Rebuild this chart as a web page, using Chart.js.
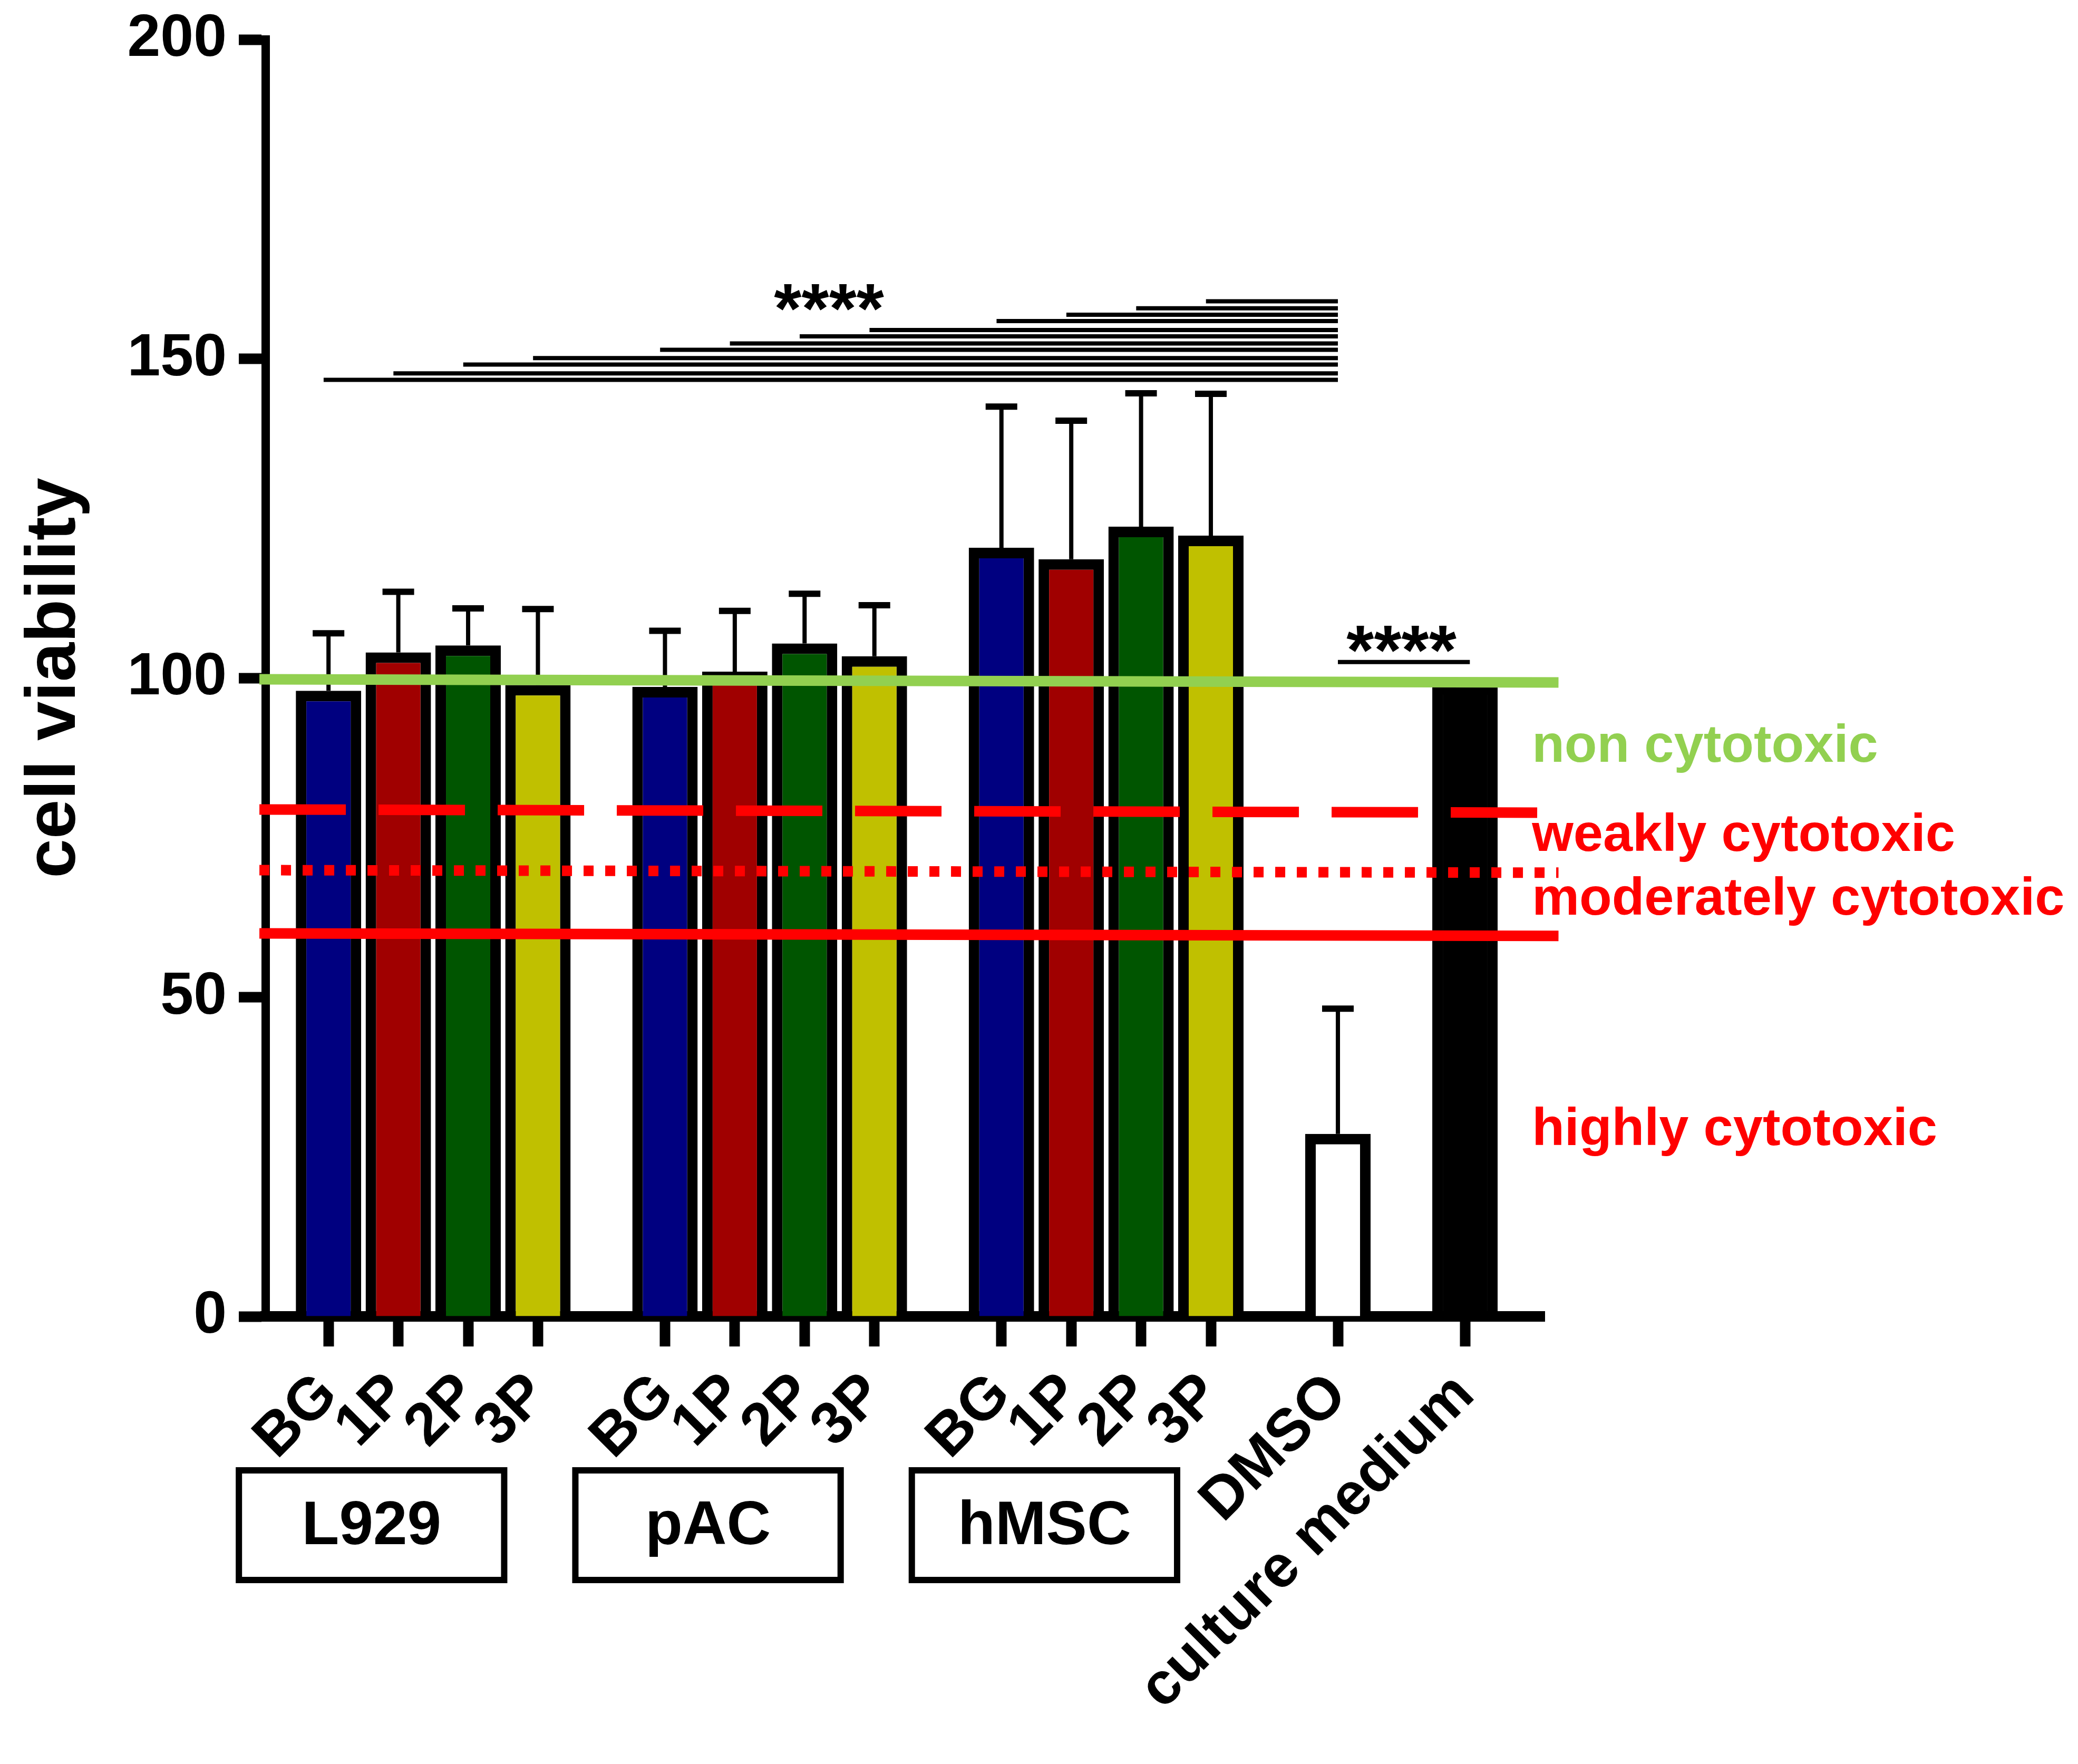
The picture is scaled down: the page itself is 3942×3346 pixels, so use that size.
<!DOCTYPE html>
<html>
<head>
<meta charset="utf-8">
<script src="https://cdn.jsdelivr.net/npm/chart.js@4/dist/chart.umd.min.js"></script>
<style>
html,body{margin:0;padding:0;background:#ffffff;}
#wrap{width:3942px;height:3346px;position:relative;}
</style>
</head>
<body>
<div id="wrap"><canvas id="c"></canvas></div>
<script>
// ================= DATA =================
const cellTypes = ['L929', 'pAC', 'hMSC'];
const materials = ['BG', '1P', '2P', '3P'];
const controls = ['DMSO', 'culture medium'];

const meanL929 = [98.0, 104.0, 105.1, 98.9];
const meanPAC  = [98.6, 101.0, 105.4, 103.4];
const meanHMSC = [120.4, 118.6, 123.7, 122.3];
const meanControls = [28.6, 99.0];

const sdL929 = [9.0, 9.5, 5.8, 11.9];
const sdPAC  = [8.8, 9.5, 7.8, 8.0];
const sdHMSC = [22.1, 21.7, 20.9, 22.2];
const sdControls = [19.6, null];

// significance brackets (each material bar vs DMSO), heights in y units
const sigLevelsVsDMSO = [146.7, 147.7, 149.1, 150.1, 151.4, 152.4, 153.5, 154.5, 155.9, 156.9, 157.9, 159.0];
const sigLevelControls = 102.5;
const sigLabel = '****';

// cytotoxicity thresholds (drawn lines, slightly tilted in the original)
const thresholdNames = ['non cytotoxic', 'weakly cytotoxic', 'moderately cytotoxic', 'highly cytotoxic'];
const thresholdStart = [99.8, 79.4, 69.9, 60.0];
const thresholdEnd   = [99.3, 78.9, 69.5, 59.6];

const yTicks = [0, 50, 100, 150, 200];
const yTitle = 'cell viability';

// ================= STYLE / LAYOUT =================
const FONT = '"Liberation Sans", Arial, Helvetica, sans-serif';
const materialColors = ['#000080', '#A00000', '#005500', '#C0C000'];
const controlColors = ['#FFFFFF', '#000000'];
const thresholdColors = ['#92D050', '#FF0000', '#FF0000', '#FF0000'];
const thresholdDash = [[], [164, 62], [19, 22], []];

const GROUP_GAP = 1.82;            // spacing between groups (slot units)
const X_MIN = -0.9, X_MAX = 17.42;
const REF_X0 = -0.99, REF_X1 = 17.62;
const Y_AXIS_WIDTH = 504;
const X_AXIS_HEIGHT = 849;

// slot positions on the linear x scale
const xPos = [];
cellTypes.forEach((c, g) => materials.forEach((m, k) => xPos.push(g * (3 + GROUP_GAP) + k)));
xPos.push(xPos[xPos.length - 1] + GROUP_GAP);
xPos.push(xPos[xPos.length - 1] + GROUP_GAP);
const DMSO_I = 12, CM_I = 13;

const xLabels = [...materials, ...materials, ...materials, ...controls];
const means = [...meanL929, ...meanPAC, ...meanHMSC, ...meanControls];
const sds = [...sdL929, ...sdPAC, ...sdHMSC, ...sdControls];
const barColors = [...materialColors, ...materialColors, ...materialColors, ...controlColors];

const bars = means.map((m, i) => ({x: xPos[i], y: m}));
const stems = [], caps = [];
means.forEach((m, i) => {
  const sd = sds[i];
  if (sd == null) return;
  stems.push({x: xPos[i], y: m}, {x: xPos[i], y: m + sd}, {x: xPos[i], y: null});
  caps.push({x: xPos[i], y: m + sd});
});

const BRACKET_EXT = 0.07;
const brackets = [];
sigLevelsVsDMSO.forEach((h, i) => {
  brackets.push({x: xPos[i] - BRACKET_EXT, y: h}, {x: xPos[DMSO_I], y: h}, {x: xPos[DMSO_I], y: null});
});
brackets.push({x: xPos[DMSO_I], y: sigLevelControls}, {x: xPos[CM_I] + BRACKET_EXT, y: sigLevelControls});

const thresholdDatasets = thresholdNames.map((name, i) => ({
  type: 'line',
  label: name,
  data: [{x: REF_X0, y: thresholdStart[i]}, {x: REF_X1, y: thresholdEnd[i]}],
  borderColor: thresholdColors[i],
  borderWidth: 20,
  borderDash: thresholdDash[i],
  borderCapStyle: 'butt',
  pointRadius: 0,
  tension: 0,
  clip: false,
  order: 0
}));

const annotationLayout = {
  starFont: 134,
  mainStars: {x: 7.17, y: 154.1},
  controlStars: {x: (xPos[DMSO_I] + xPos[CM_I]) / 2, y: 100.6},
  thresholdFont: 101,
  thresholdLabelX: 17.24,
  thresholdLabelY: [86.9, 72.9, 62.95, 26.85],
  boxTop: 286, boxBottom: 506, boxLeftPad: 176, boxRightPad: 58, boxLine: 12, boxFont: 116
};

const annotations = {
  id: 'annotations',
  afterDatasetsDraw(chart) {
    const {ctx, chartArea, scales: {x, y}} = chart;
    const L = annotationLayout;
    ctx.save();
    // significance stars
    ctx.fillStyle = '#000';
    ctx.textAlign = 'center';
    ctx.textBaseline = 'alphabetic';
    ctx.font = `bold ${L.starFont}px ${FONT}`;
    ctx.fillText(sigLabel, x.getPixelForValue(L.mainStars.x), y.getPixelForValue(L.mainStars.y));
    ctx.fillText(sigLabel, x.getPixelForValue(L.controlStars.x), y.getPixelForValue(L.controlStars.y));
    // threshold labels
    ctx.textAlign = 'left';
    ctx.font = `bold ${L.thresholdFont}px ${FONT}`;
    thresholdNames.forEach((n, i) => {
      ctx.fillStyle = thresholdColors[i];
      ctx.fillText(n, x.getPixelForValue(L.thresholdLabelX), y.getPixelForValue(L.thresholdLabelY[i]));
    });
    // cell type boxes
    ctx.strokeStyle = '#000';
    ctx.lineWidth = L.boxLine;
    ctx.fillStyle = '#000';
    ctx.textAlign = 'center';
    ctx.textBaseline = 'middle';
    ctx.font = `bold ${L.boxFont}px ${FONT}`;
    cellTypes.forEach((c, g) => {
      const left = x.getPixelForValue(xPos[g * 4]) - L.boxLeftPad;
      const right = x.getPixelForValue(xPos[g * 4 + 3]) - L.boxRightPad;
      const top = chartArea.bottom + L.boxTop;
      const bottom = chartArea.bottom + L.boxBottom;
      const hw = L.boxLine / 2;
      ctx.strokeRect(left + hw, top + hw, right - left - L.boxLine, bottom - top - L.boxLine);
      ctx.fillText(c, (left + right) / 2, (top + bottom) / 2 + 4);
    });
    ctx.restore();
  }
};

Chart.defaults.font.family = FONT;
Chart.defaults.color = '#000';

new Chart(document.getElementById('c'), {
  type: 'bar',
  data: {
    datasets: [
      ...thresholdDatasets,
      {type: 'line', label: 'significance', data: brackets, borderColor: '#000', borderWidth: 8,
       pointRadius: 0, spanGaps: false, tension: 0, clip: false, order: 1},
      {type: 'line', label: 'error caps', data: caps, showLine: false, pointStyle: 'line',
       pointRadius: 30, pointHoverRadius: 30, pointBorderColor: '#000', pointBorderWidth: 12,
       borderColor: '#000', order: 2},
      {type: 'line', label: 'error stems', data: stems, borderColor: '#000', borderWidth: 8,
       pointRadius: 0, spanGaps: false, tension: 0, order: 3},
      {type: 'bar', label: yTitle, data: bars, backgroundColor: barColors, borderColor: '#000',
       borderWidth: 20, borderSkipped: 'start', barThickness: 124, inflateAmount: 0, order: 10}
    ]
  },
  options: {
    responsive: true,
    maintainAspectRatio: false,
    animation: false,
    devicePixelRatio: 1,
    events: [],
    layout: {padding: {left: 0, top: 75, right: 1012, bottom: 0}},
    plugins: {legend: {display: false}, tooltip: {enabled: false}},
    scales: {
      x: {
        type: 'linear', min: X_MIN, max: X_MAX, offset: false,
        afterBuildTicks: s => { s.ticks = xPos.map(v => ({value: v})); },
        afterFit: s => { s.height = X_AXIS_HEIGHT; s.paddingLeft = 0; s.paddingRight = 0; },
        ticks: {autoSkip: false, minRotation: 45, maxRotation: 45, padding: 26,
                font: {size: 113, weight: 'bold'}, color: '#000',
                callback: (v, i) => xLabels[i]},
        grid: {drawOnChartArea: false, drawTicks: true, tickLength: 57, tickWidth: 20, tickColor: '#000', offset: false},
        border: {display: true, color: '#000', width: 20}
      },
      y: {
        min: 0, max: 200,
        afterBuildTicks: s => { s.ticks = yTicks.map(v => ({value: v})); },
        afterFit: s => { s.width = Y_AXIS_WIDTH; s.paddingTop = 0; s.paddingBottom = 0; },
        ticks: {padding: 23, font: {size: 113, weight: 'bold'}, color: '#000'},
        grid: {drawOnChartArea: false, drawTicks: true, tickLength: 51, tickWidth: 20, tickColor: '#000'},
        border: {display: true, color: '#000', width: 16},
        title: {display: true, text: yTitle, color: '#000', font: {size: 134, weight: 'bold'}, padding: {top: 25, bottom: 0}}
      }
    }
  },
  plugins: [annotations]
});
</script>
</body>
</html>
